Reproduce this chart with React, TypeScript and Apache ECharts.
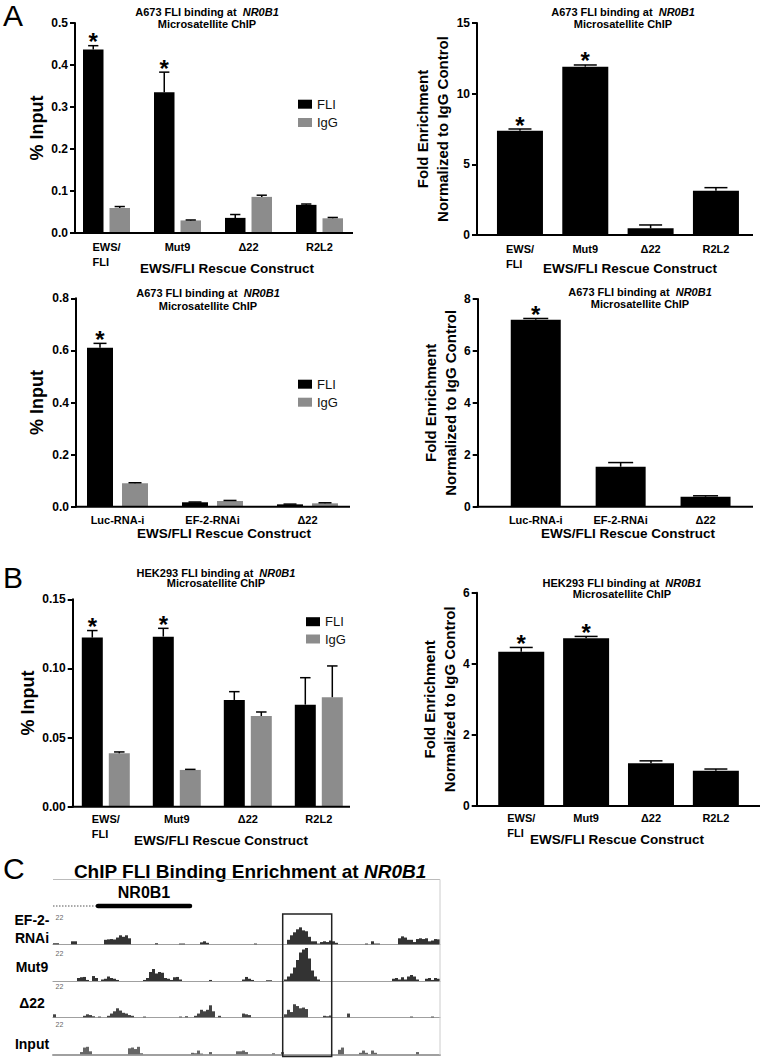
import React, { useEffect, useRef } from "react";
import * as echarts from "echarts";

const FONT = "'Liberation Sans', Arial, Helvetica, sans-serif";
const FLI_COLOR = "#000000";
const IGG_COLOR = "#8c8c8c";

// ---------- Panel A (top row) ----------
const catsRescue = ["EWS/\nFLI", "Mut9", "Δ22", "R2L2"];
const a1Fli = [0.437, 0.335, 0.036, 0.067];
const a1FliErr = [0.446, 0.383, 0.044, 0.069];
const a1IgG = [0.0595, 0.03, 0.086, 0.035];
const a1IgGErr = [0.063, 0.031, 0.09, 0.037];
const a1Sig = [true, true, false, false];
const a1Y = [0, 0.5, 0.1];

const a2Fold = [7.38, 11.91, 0.47, 3.13];
const a2FoldErr = [7.5, 12.03, 0.71, 3.35];
const a2Sig = [true, true, false, false];
const a2Y = [0, 15, 5];

// ---------- Panel A (second row) ----------
const catsRnai = ["Luc-RNA-i", "EF-2-RNAi", "Δ22"];
const a3Fli = [0.61, 0.017, 0.009];
const a3FliErr = [0.627, 0.018, 0.01];
const a3IgG = [0.09, 0.022, 0.013];
const a3IgGErr = [0.092, 0.024, 0.015];
const a3Sig = [true, false, false];
const a3Y = [0, 0.8, 0.2];

const a4Fold = [7.2, 1.54, 0.385];
const a4FoldErr = [7.25, 1.7, 0.42];
const a4Sig = [true, false, false];
const a4Y = [0, 8, 2];

// ---------- Panel B ----------
const b1Fli = [0.1223, 0.123, 0.0772, 0.0738];
const b1FliErr = [0.1274, 0.129, 0.0832, 0.0933];
const b1IgG = [0.0386, 0.0266, 0.0656, 0.0792];
const b1IgGErr = [0.0396, 0.027, 0.0685, 0.1018];
const b1Sig = [true, true, false, false];
const b1Y = [0, 0.15, 0.05];

const b2Fold = [4.34, 4.72, 1.2, 0.99];
const b2FoldErr = [4.46, 4.77, 1.27, 1.04];
const b2Sig = [true, true, false, false];
const b2Y = [0, 6, 2];

// ---------- Panel C (coverage tracks: [bin, height]) ----------
const trackNames = ["EF-2-\nRNAi", "Mut9", "Δ22", "Input"];
const trackMax = 22;
const trackBins = 129;
const trackEF2 = [[0,0.7],[1,0.7],[6,2],[7,2],[17,3],[18,3.3],[19,3.5],[20,3.2],[21,4.5],[22,6],[23,5],[24,6],[25,4],[34,0.7],[42,0.5],[43,0.5],[49,1.3],[50,2],[51,1],[67,0.5],[78,3],[79,6],[80,8],[81,10],[82,11.3],[83,9.3],[84,8.7],[85,5],[86,2],[87,2],[88,0.5],[89,1.5],[90,2],[91,1.5],[92,2.5],[93,2],[94,1],[104,0.5],[106,2],[107,0.5],[108,0.5],[115,4],[116,5.3],[117,4.5],[118,3],[119,3],[120,1.5],[121,3.5],[122,4],[123,3.5],[124,4],[125,2],[126,2.5],[127,3.5],[128,3.3]];
const trackMut9 = [[8,2],[9,2.5],[10,2.7],[11,0.7],[13,3.3],[14,2],[16,1],[17,1.5],[18,3],[19,2],[20,1.5],[21,0.7],[30,0.7],[31,2],[32,6],[33,8],[34,5],[35,6],[36,5.5],[37,2],[38,1.5],[39,0.7],[40,2.5],[41,2.7],[42,1],[52,0.7],[63,1],[64,2.7],[65,1.5],[66,0.7],[71,0.5],[72,0.5],[77,1],[78,3],[79,5],[80,9],[81,14],[82,19],[83,21],[84,22],[85,15],[86,7],[87,3],[88,1],[113,1.5],[114,2],[115,1],[116,2.5],[117,1],[118,3],[119,4],[120,3],[121,1],[124,1.5],[125,2],[126,0.7],[127,2],[128,1.5]];
const trackD22 = [[0,2],[10,1],[11,2],[12,1.5],[13,0.7],[15,0.5],[18,1],[19,2.5],[20,4],[21,6],[22,4.5],[23,3],[24,2.5],[25,1.5],[26,1],[30,0.5],[42,0.5],[44,0.7],[47,1],[48,2.5],[49,5],[50,4],[51,5],[52,8],[53,4],[55,1],[63,2.5],[64,2],[65,1.5],[77,2],[78,5],[79,3.5],[80,8.7],[81,7.5],[82,6],[83,6.5],[84,5.5],[90,1],[91,0.7],[92,1.2],[98,2.5],[119,0.5],[126,0.5]];
const trackInput = [[9,1.5],[10,4.5],[11,5],[12,2],[25,4],[26,4.5],[27,3.5],[28,5],[29,0.7],[46,1],[47,0.7],[48,2.5],[49,0.5],[52,1.5],[61,2],[62,2],[63,2.5],[64,1.5],[73,0.7],[76,1.5],[95,3],[96,4.5],[102,1],[103,2.5],[104,1],[106,2.5],[107,1],[121,1.5]];
const tracks = [trackEF2, trackMut9, trackD22, trackInput];

// ---------- layout (pixel positions / sizes) ----------
const L = [
  { axisX: 75, endX: 353, gridLeft: 71, gridW: 284, top: 23, bottom: 233, bw: 20.5, gap: 6, yNameGap: 27, yNameSize: 18, labelMargin: 6, titleX: 207, titleY: 17.75, titleLH: 12.5, xNameX: 227, xNameY: 268, legend: { left: 298, top: 97.2, gap: 4.3 } },
  { axisX: 477, endX: 753, gridLeft: 487.3, gridW: 261.3, top: 23, bottom: 235, bw: 46, gap: 0, yNameGap: 20, yNameSize: 15, labelMargin: 6, titleX: 623, titleY: 17.75, titleLH: 12.5, xNameX: 630, xNameY: 268 },
  { axisX: 76, endX: 350, gridLeft: 70, gridW: 285, top: 298.3, bottom: 506.7, bw: 26, gap: 9, yNameGap: 29, yNameSize: 18, labelMargin: 6, titleX: 208, titleY: 299.5, titleLH: 12.4, xNameX: 224, xNameY: 533, legend: { left: 298, top: 377.2, gap: 4 } },
  { axisX: 477.7, endX: 753, gridLeft: 493.3, gridW: 254.7, top: 299, bottom: 506.7, bw: 50, gap: 0, yNameGap: 11, yNameSize: 15, labelMargin: 6, titleX: 640, titleY: 297.8, titleLH: 12.3, xNameX: 628, xNameY: 533 },
  { axisX: 72.7, endX: 350, gridLeft: 70.3, gridW: 284, top: 599.3, bottom: 806.7, bw: 21, gap: 6, yNameGap: 31, yNameSize: 18, labelMargin: 5, titleX: 216, titleY: 578, titleLH: 10, xNameX: 221, xNameY: 840, legend: { left: 306, top: 614.7, gap: 3.3 } },
  { axisX: 476.7, endX: 760, gridLeft: 488.8, gridW: 259.5, top: 592.7, bottom: 806, bw: 46, gap: 0, yNameGap: 11, yNameSize: 15, labelMargin: 4, titleX: 622, titleY: 588, titleLH: 11, xNameX: 617, xNameY: 839 },
];
const trackLayout = { left: 53, width: 387, height: 33, baselines: [944.3, 981, 1017.3, 1054.3], colors: ["#333", "#333", "#444", "#666"] };

const panels = [
  { cats: catsRescue, series: [{ name: "FLI", values: a1Fli, errs: a1FliErr, color: FLI_COLOR }, { name: "IgG", values: a1IgG, errs: a1IgGErr, color: IGG_COLOR }], sig: a1Sig, y: a1Y, dec: 1, yName: "% Input", cell: "A673" },
  { cats: catsRescue, series: [{ name: "Fold", values: a2Fold, errs: a2FoldErr, color: FLI_COLOR }], sig: a2Sig, y: a2Y, dec: 0, yName: "Fold Enrichment\nNormalized to IgG Control", cell: "A673" },
  { cats: catsRnai, series: [{ name: "FLI", values: a3Fli, errs: a3FliErr, color: FLI_COLOR }, { name: "IgG", values: a3IgG, errs: a3IgGErr, color: IGG_COLOR }], sig: a3Sig, y: a3Y, dec: 1, yName: "% Input", cell: "A673" },
  { cats: catsRnai, series: [{ name: "Fold", values: a4Fold, errs: a4FoldErr, color: FLI_COLOR }], sig: a4Sig, y: a4Y, dec: 0, yName: "Fold Enrichment\nNormalized to IgG Control", cell: "A673" },
  { cats: catsRescue, series: [{ name: "FLI", values: b1Fli, errs: b1FliErr, color: FLI_COLOR }, { name: "IgG", values: b1IgG, errs: b1IgGErr, color: IGG_COLOR }], sig: b1Sig, y: b1Y, dec: 2, yName: "% Input", cell: "HEK293" },
  { cats: catsRescue, series: [{ name: "Fold", values: b2Fold, errs: b2FoldErr, color: FLI_COLOR }], sig: b2Sig, y: b2Y, dec: 0, yName: "Fold Enrichment\nNormalized to IgG Control", cell: "HEK293" },
];

function buildOption() {
  const grid: any[] = [];
  const xAxis: any[] = [];
  const yAxis: any[] = [];
  const series: any[] = [];
  const legend: any[] = [];
  const elements: any[] = [];

  panels.forEach((p, k) => {
    const l = L[k];
    grid.push({ left: l.gridLeft, top: l.top, width: l.gridW, height: l.bottom - l.top });
    xAxis.push({
      type: "category", gridIndex: k, data: p.cats,
      axisLine: { show: false }, axisTick: { show: false },
      axisLabel: {
        interval: 0, margin: l.labelMargin,
        formatter: (v: string) => v.split("\n").map((s) => `{l|${s}}`).join("\n"),
        rich: { l: { align: "left", fontSize: 11, fontWeight: "bold", color: "#000", lineHeight: 15, fontFamily: FONT } },
      },
    });
    yAxis.push({
      type: "value", gridIndex: k, min: p.y[0], max: p.y[1], interval: p.y[2],
      offset: l.gridLeft - l.axisX,
      axisLine: { show: true, lineStyle: { color: "#000", width: 2 } },
      axisTick: { show: true, length: 5, lineStyle: { color: "#000", width: 2 } },
      splitLine: { show: false },
      axisLabel: { formatter: (v: number) => v.toFixed(p.dec), fontSize: 12, fontWeight: "bold", color: "#000", margin: 7, fontFamily: FONT },
      name: p.yName, nameLocation: "middle", nameGap: l.yNameGap,
      nameTextStyle: { fontSize: l.yNameSize, fontWeight: "bold", color: "#000", lineHeight: 20, fontFamily: FONT },
    });
    const n = p.series.length;
    p.series.forEach((s, j) => {
      series.push({
        type: "bar", name: s.name, xAxisIndex: k, yAxisIndex: k, data: s.values,
        barWidth: l.bw, barGap: n > 1 ? `${(l.gap / l.bw) * 100}%` : undefined,
        itemStyle: { color: s.color }, silent: true,
      });
      const offset = n === 1 ? 0 : (j === 0 ? -1 : 1) * (l.bw + l.gap) / 2;
      const cap = l.bw * 0.5;
      series.push({
        type: "custom", xAxisIndex: k, yAxisIndex: k, z: 5, clip: false, silent: true,
        data: s.values.map((v, i) => [i, v, s.errs[i], j === 0 && p.sig[i] ? 1 : 0]),
        encode: { x: 0, y: [1, 2] },
        renderItem: (params: any, api: any) => {
          const i = api.value(0);
          const base = api.coord([i, api.value(1)]);
          const top = api.coord([i, api.value(2)]);
          const x = base[0] + offset;
          const children: any[] = [
            { type: "line", shape: { x1: x, y1: base[1], x2: x, y2: top[1] }, style: { stroke: "#000", lineWidth: 1.5 } },
            { type: "line", shape: { x1: x - cap / 2, y1: top[1], x2: x + cap / 2, y2: top[1] }, style: { stroke: "#000", lineWidth: 1.5 } },
          ];
          if (api.value(3)) {
            children.push({ type: "text", style: { text: "*", x, y: top[1] - 4, align: "center", verticalAlign: "middle", fontSize: 24, fontWeight: "bold", fontFamily: FONT, fill: "#000" } });
          }
          return { type: "group", children };
        },
      });
    });
    if (l.legend) {
      legend.push({
        data: ["FLI", "IgG"], orient: "vertical", left: l.legend.left, top: l.legend.top, padding: 0,
        itemGap: l.legend.gap, itemWidth: 14, itemHeight: 9, icon: "rect", selectedMode: false,
        textStyle: { fontSize: 13, color: "#111", lineHeight: 14, fontFamily: FONT },
      });
    }
    // x axis line spanning from the y axis
    elements.push({ type: "line", z: 100, shape: { x1: l.axisX - 1, y1: l.bottom, x2: l.endX, y2: l.bottom }, style: { stroke: "#000", lineWidth: 2 } });
    // title
    elements.push({
      type: "text", z: 100,
      style: {
        text: `{b|${p.cell} FLI binding at }{i|NR0B1}\n{b|Microsatellite ChIP}`,
        x: l.titleX, y: l.titleY, align: "center", verticalAlign: "middle",
        rich: {
          b: { fontSize: 11, fontWeight: "bold", fontFamily: FONT, fill: "#000", lineHeight: l.titleLH },
          i: { fontSize: 11, fontWeight: "bold", fontStyle: "italic", fontFamily: FONT, fill: "#000", lineHeight: l.titleLH, padding: [0, 0, 0, 3] },
        },
      },
    });
    elements.push({ type: "text", z: 100, style: { text: "EWS/FLI Rescue Construct", x: l.xNameX, y: l.xNameY, align: "center", verticalAlign: "middle", fontSize: 13.5, fontWeight: "bold", fontFamily: FONT, fill: "#000" } });
  });

  // ---- Panel C tracks ----
  tracks.forEach((t, m) => {
    const k = panels.length + m;
    const base = trackLayout.baselines[m];
    grid.push({ left: trackLayout.left, top: base - trackLayout.height, width: trackLayout.width, height: trackLayout.height });
    xAxis.push({
      type: "value", gridIndex: k, min: 0, max: trackBins,
      axisLine: { show: true, onZero: false, lineStyle: { color: "#a0a0a0", width: m === 3 ? 2 : 1.2 } },
      axisTick: { show: false }, axisLabel: { show: false }, splitLine: { show: false },
    });
    yAxis.push({ type: "value", gridIndex: k, min: 0, max: trackMax, show: false, splitLine: { show: false } });
    series.push({
      type: "bar", xAxisIndex: k, yAxisIndex: k, silent: true,
      data: t.map(([b, v]) => [b + 0.5, v]),
      barWidth: trackLayout.width / trackBins,
      itemStyle: { color: trackLayout.colors[m] },
    });
  });

  const trackLabelY = [[920, 937.7], [966.7], [1003], [1044]];
  trackNames.forEach((name, m) => {
    name.split("\n").forEach((line, q) => {
      elements.push({ type: "text", z: 100, style: { text: line, x: 32, y: trackLabelY[m][q], align: "center", verticalAlign: "middle", fontSize: 14, fontWeight: "bold", fontFamily: FONT, fill: "#000" } });
    });
  });
  [917.5, 953.3, 986.7, 1024.2].forEach((y) => {
    elements.push({ type: "text", z: 100, style: { text: String(trackMax), x: 55.5, y, align: "left", verticalAlign: "middle", fontSize: 7, fontFamily: FONT, fill: "#666" } });
  });

  // Panel letters
  [["A", 15], ["B", 577.5], ["C", 868]].forEach(([t, y]) => {
    elements.push({ type: "text", z: 100, style: { text: t as string, x: 3, y: y as number, align: "left", verticalAlign: "middle", fontSize: 30, lineHeight: 26, fontFamily: FONT, fill: "#000" } });
  });

  // Panel C title / frame / gene model / box
  elements.push({
    type: "text", z: 100,
    style: {
      text: "{b|ChIP FLI Binding Enrichment at }{i|NR0B1}", x: 250, y: 871, align: "center", verticalAlign: "middle",
      rich: {
        b: { fontSize: 19, fontWeight: "bold", fontFamily: FONT, fill: "#000" },
        i: { fontSize: 19, fontWeight: "bold", fontStyle: "italic", fontFamily: FONT, fill: "#000" },
      },
    },
  });
  elements.push({ type: "line", z: 100, shape: { x1: 53, y1: 879.5, x2: 440, y2: 879.5 }, style: { stroke: "#bbb", lineWidth: 1 } });
  elements.push({ type: "line", z: 100, shape: { x1: 440, y1: 879.5, x2: 440, y2: 1055 }, style: { stroke: "#ccc", lineWidth: 1 } });
  elements.push({ type: "text", z: 100, style: { text: "NR0B1", x: 144, y: 892.5, align: "center", verticalAlign: "middle", fontSize: 16, fontWeight: "bold", fontFamily: FONT, fill: "#000" } });
  elements.push({ type: "line", z: 100, shape: { x1: 53, y1: 906, x2: 97, y2: 906 }, style: { stroke: "#555", lineWidth: 1, lineDash: [1.5, 1.5] } });
  elements.push({ type: "line", z: 100, shape: { x1: 98, y1: 906, x2: 190, y2: 906 }, style: { stroke: "#000", lineWidth: 4.5, lineCap: "round" } });
  elements.push({ type: "rect", z: 100, shape: { x: 282.7, y: 914, width: 49, height: 142.5 }, style: { stroke: "#222", lineWidth: 1.5, fill: "none" } });

  return {
    animation: false,
    backgroundColor: "#fff",
    textStyle: { fontFamily: FONT },
    grid, xAxis, yAxis, series, legend,
    graphic: { elements },
  };
}

export default function App() {
  const ref = useRef<HTMLDivElement>(null);
  useEffect(() => {
    const chart = echarts.init(ref.current!, null, { renderer: "svg" });
    chart.setOption(buildOption() as any);
    return () => chart.dispose();
  }, []);
  return <div ref={ref} style={{ position: "absolute", left: 0, top: 0, width: 762, height: 1059, background: "#fff" }} />;
}
